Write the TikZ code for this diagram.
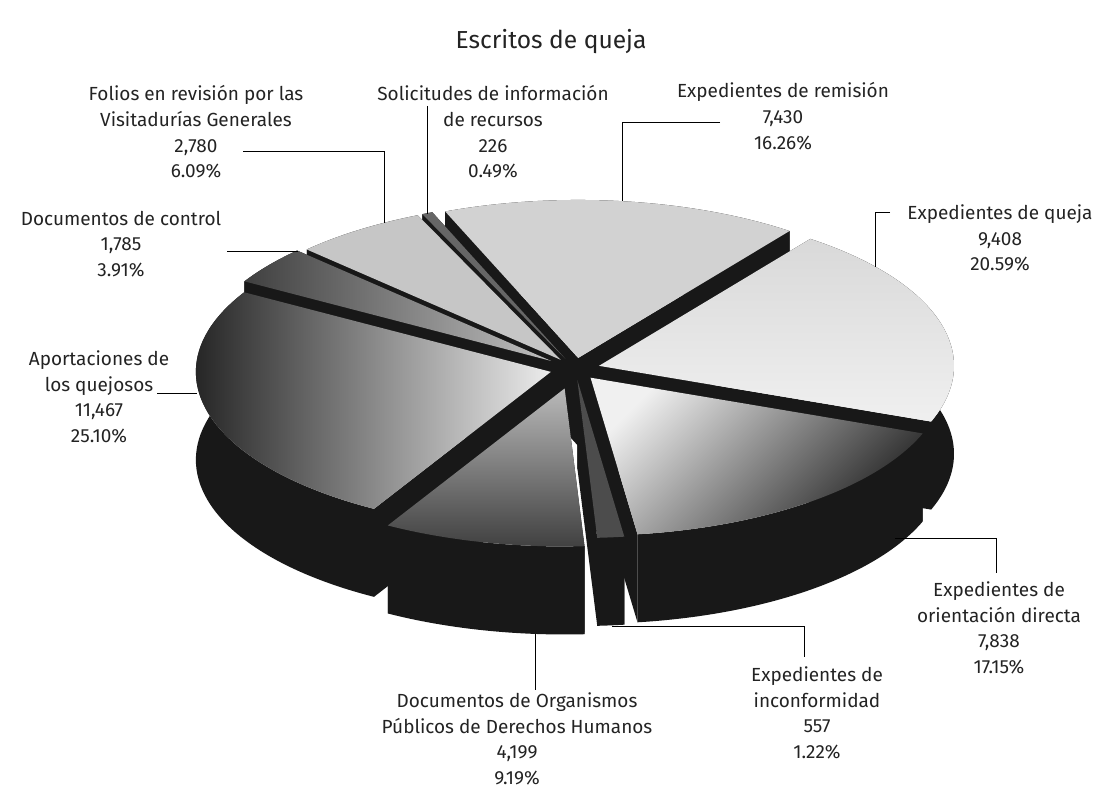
\documentclass[tikz,border=0pt]{standalone}
\usepackage{fontspec}
\setmainfont{Fira Sans}
\usepackage{tikz}
\usetikzlibrary{calc}
\definecolor{wallgray}{RGB}{24, 24, 24}
\definecolor{topgray}{RGB}{210, 210, 210}
\definecolor{labelgray}{RGB}{35, 35, 35}

% one exploded slice: #1 start angle, #2 end angle, #3 explode, #4 top face style
\newcommand{\pieslice}[4]{%
  \pgfmathsetmacro{\midang}{(#1+#2)/2}%
  \pgfmathsetmacro{\expy}{#3*0.445}%
  \begin{scope}[shift={(\midang:#3 and \expy)}]
    \fill[piewall] (0,0) -- (#1:355 and 158) -- ++(0,-88) -- (0,-88) -- cycle;
    \fill[piewall] (0,0) -- (#2:355 and 158) -- ++(0,-88) -- (0,-88) -- cycle;
    \fill[piewall] (#1:355 and 158) arc[start angle=#1, end angle=#2, x radius=355, y radius=158]
      -- ++(0,-88) arc[start angle=#2, end angle=#1, x radius=355, y radius=158] -- cycle;
    \path[#4] (0,0) -- (#1:355 and 158) arc[start angle=#1, end angle=#2, x radius=355, y radius=158] -- cycle;
  \end{scope}}

\begin{document}
\begin{tikzpicture}[x=0.025cm, y=0.025cm,
    piewall/.style={fill=wallgray},
    leader/.style={draw=black, line width=0.6pt},
    lbl/.style={align=center, text=labelgray, font=\fontsize{13.5}{18.3}\selectfont, inner sep=0pt}]
  \useasboundingbox (0,0) rectangle (1104,788);

  % Title
  \node[font=\fontsize{17.5}{20}\selectfont, text=labelgray] (title) at (551,746) {Escritos de queja};

  % Pie, back slices first
  \begin{scope}[shift={(575,419)}]
    \pieslice{112}{53.46}{25}{fill=topgray}                                   % remision
    \pieslice{113.76}{112}{25}{fill=black!60}                                 % solicitudes
    \pieslice{135.69}{113.76}{25}{fill=gray!45}                               % folios
    \pieslice{149.76}{135.69}{30}{left color=black!75, right color=gray!50}   % control
    \pieslice{53.46}{-20.66}{25}{top color=gray!30, bottom color=gray!12}     % queja
    \pieslice{-119.88}{-210.24}{25}{left color=black!85, right color=gray!15} % aportaciones
    \pieslice{-20.66}{-82.40}{25}{top color=gray!12, bottom color=black!85, shading angle=45} % orientacion
    \pieslice{-86.79}{-119.88}{45}{top color=gray!55, bottom color=black!75}  % organismos
    \pieslice{-82.40}{-86.79}{25}{fill=black!70}                              % inconformidad
  \end{scope}

  % Labels
  \node[lbl] (folios) at (196,656) {Folios en revisión por las\\Visitadurías Generales\\2,780\\6.09\%};
  \node[lbl] (solic) at (493,656) {Solicitudes de información\\de recursos\\226\\0.49\%};
  \node[lbl] (remis) at (783,672) {Expedientes de remisión\\7,430\\16.26\%};
  \node[lbl] (control) at (121,544) {Documentos de control\\1,785\\3.91\%};
  \node[lbl] (queja) at (1000,550) {Expedientes de queja\\9,408\\20.59\%};
  \node[lbl] (aport) at (99,391) {Aportaciones de\\los quejosos\\11,467\\25.10\%};
  \node[lbl] (orient) at (999,160) {Expedientes de\\orientación directa\\7,838\\17.15\%};
  \node[lbl] (inconf) at (817,75) {Expedientes de\\inconformidad\\557\\1.22\%};
  \node[lbl] (organ) at (517,49) {Documentos de Organismos\\Públicos de Derechos Humanos\\4,199\\9.19\%};

  % Leader ends
  \coordinate (folios-a) at (243,637);
  \coordinate (folios-b) at (384,565);
  \coordinate (solic-a) at (427,682);
  \coordinate (solic-b) at (427,574);
  \coordinate (remis-a) at (720,666);
  \coordinate (remis-b) at (622,587);
  \coordinate (control-a) at (227,537);
  \coordinate (control-b) at (298,537);
  \coordinate (queja-a) at (890,576);
  \coordinate (queja-b) at (875,521);
  \coordinate (aport-a) at (157,395);
  \coordinate (aport-b) at (197,395);
  \coordinate (orient-a) at (996,215);
  \coordinate (orient-b) at (895,250);
  \coordinate (inconf-a) at (804,131);
  \coordinate (inconf-b) at (612,162);
  \coordinate (organ-a) at (535,98);
  \coordinate (organ-b) at (535,154);

  % Leaders
  \draw[leader] (folios-a) -| (folios-b);
  \draw[leader] (solic-a) -- (solic-b);
  \draw[leader] (remis-a) -| (remis-b);
  \draw[leader] (control-a) -- (control-b);
  \draw[leader] (queja-a) -| (queja-b);
  \draw[leader] (aport-a) -- (aport-b);
  \draw[leader] (orient-a) |- (orient-b);
  \draw[leader] (inconf-a) |- (inconf-b);
  \draw[leader] (organ-a) -- (organ-b);
\end{tikzpicture}
\end{document}
